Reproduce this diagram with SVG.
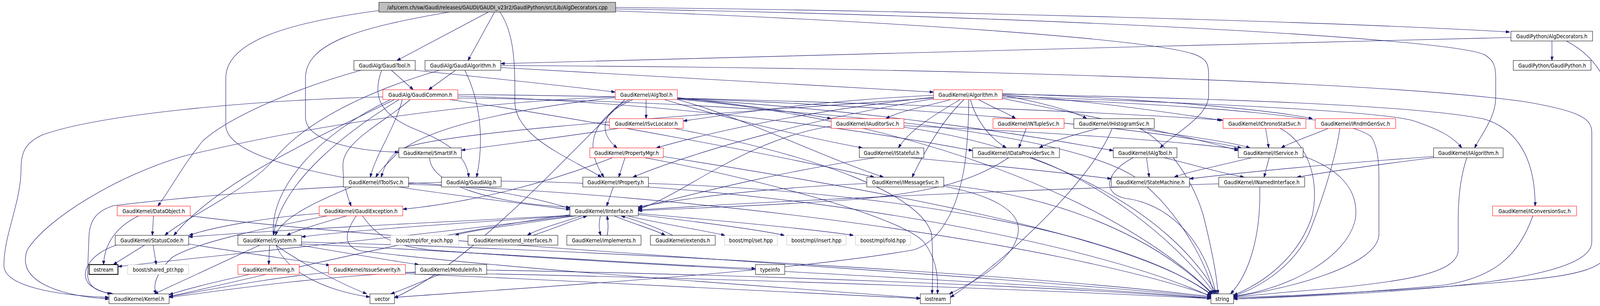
<svg xmlns="http://www.w3.org/2000/svg" width="4131" height="784" viewBox="0 0 4131 784">
<style>
.node rect{fill:#fff;stroke:#000;stroke-width:1}
.node.red rect{stroke:#f00}
.node.gry rect{stroke:#bfbfbf}
.node.root rect{fill:#bfbfbf}
.node.thick rect{stroke-width:2}
.node text{font-family:"DejaVu Sans Condensed","DejaVu Sans",sans-serif;font-stretch:condensed;font-size:13.7px;text-anchor:middle;fill:#000}
#edges path{fill:none;stroke:#191970;stroke-width:1.1;marker-end:url(#ah)}
</style>
<defs>
<marker id="ah" viewBox="0 0 10 7" refX="10" refY="3.5" markerWidth="10" markerHeight="7" markerUnits="userSpaceOnUse" orient="auto"><path d="M0,0 L10,3.5 L0,7 z" fill="#191970" stroke="#191970"/></marker>
</defs>
<rect width="4131" height="784" fill="#fff"/>
<g id="edges">
<path d="M1250,31 L1016,155"/>
<path d="M1266,31 L1198,155"/>
<path d="M1150,31 C920,70 782,110 782,200 L782,300 C782,360 900,386 1021,390"/>
<path d="M970,27 C760,55 578,100 578,200 L578,320 C578,430 1000,480 1459,537"/>
<path d="M1280,31 C1320,90 1318,180 1318,260 C1318,350 1450,400 1540,454"/>
<path d="M1576,19 C2400,28 3400,55 3865,82"/>
<path d="M1576,23 C2600,40 3700,95 3800,140 C3825,155 3829,170 3829,200 L3829,250 C3829,300 3795,340 3775,379"/>
<path d="M1576,28 C2300,55 2950,100 3060,140 C3090,152 3094,165 3094,190 L3094,245 C3094,300 3000,345 2970,379"/>
<path d="M3973,105 L3973,155"/>
<path d="M3868,96 C3000,115 1900,150 1282,163"/>
<path d="M4010,105 C4085,145 4125,210 4125,290 L4125,620 C4125,690 4040,705 3880,720 C3600,745 3300,758 3158,763"/>
<path d="M1166,180 L1097,230"/>
<path d="M1190,180 C1230,260 1240,360 1220,454"/>
<path d="M1282,173 C1700,195 2100,220 2390,236"/>
<path d="M1282,168 C2300,172 3500,205 3900,260 C4050,285 4075,305 4075,340 L4075,620 C4075,700 3800,745 3158,766"/>
<path d="M1125,180 C950,230 780,310 700,410 C630,490 470,560 422,603"/>
<path d="M1002,180 L1058,230"/>
<path d="M977,180 C955,240 965,290 1060,330 C1150,365 1195,400 1200,454"/>
<path d="M1063,180 C1300,205 1450,220 1575,236"/>
<path d="M924,180 C780,220 600,290 520,360 C470,420 440,480 404,528"/>
<path d="M980,248 C620,258 250,295 110,345 C65,365 54,390 54,430 C54,520 10,600 10,680 C10,735 150,757 279,762"/>
<path d="M1030,255 C1010,330 960,400 948,454"/>
<path d="M1050,255 C990,310 880,360 878,420 C877,470 890,505 899,528"/>
<path d="M1022,255 C900,330 720,460 700,603"/>
<path d="M1010,255 C840,340 560,460 445,603"/>
<path d="M1172,246 C1700,262 2200,330 2490,386"/>
<path d="M1150,255 C1500,305 2000,400 2238,454"/>
<path d="M1172,242 C2000,250 2900,290 3131,308"/>
<path d="M1000,255 C820,340 690,480 700,600 C710,690 830,745 947,761"/>
<path d="M1172,251 C2000,262 2700,330 2900,450 C3000,520 3080,650 3108,753"/>
<path d="M1654,255 L1654,304"/>
<path d="M1612,255 C1540,285 1530,340 1580,379"/>
<path d="M1620,255 C1520,300 1490,370 1546,454"/>
<path d="M1734,250 C1900,268 2050,290 2128,304"/>
<path d="M1575,250 C1300,280 1080,330 1010,400 C990,420 970,440 962,454"/>
<path d="M1734,255 C1900,300 2100,400 2262,454"/>
<path d="M1700,255 C1850,300 2050,350 2208,379"/>
<path d="M1734,253 C2200,280 2600,340 2850,386"/>
<path d="M1734,252 C2300,272 2900,320 3178,379"/>
<path d="M1734,254 C2300,300 2850,500 3105,753"/>
<path d="M1600,255 C1450,400 1200,680 1009,763"/>
<path d="M1575,248 C1200,262 800,320 470,400 C300,450 120,560 70,640 C40,720 150,758 279,766"/>
<path d="M2390,244 C2100,258 1900,288 1749,310"/>
<path d="M2390,249 C2100,280 1850,330 1680,379"/>
<path d="M2390,253 C2100,300 1800,380 1620,454"/>
<path d="M2434,255 C2380,270 2300,285 2268,304"/>
<path d="M2390,251 C1700,300 1100,340 1020,385 C995,405 982,430 976,454"/>
<path d="M2468,255 C2420,300 2370,380 2335,454"/>
<path d="M2458,255 C2400,290 2330,330 2300,379"/>
<path d="M2484,255 C2500,310 2530,350 2576,379"/>
<path d="M2505,255 C2540,275 2580,290 2600,304"/>
<path d="M2566,245 C2650,258 2750,285 2782,304"/>
<path d="M2566,243 C2800,258 3000,290 3126,308"/>
<path d="M2566,240 C2900,250 3250,280 3360,304"/>
<path d="M2566,252 C2800,300 3050,350 3170,386"/>
<path d="M2566,246 C3100,265 3540,285 3620,310 C3680,330 3720,350 3742,379"/>
<path d="M2566,241 C3000,250 3600,265 3800,305 C3880,330 3930,400 3930,528"/>
<path d="M2566,250 C3100,270 3450,300 3510,350 C3528,375 3530,420 3530,450 L3530,600 C3530,680 3300,740 3158,760"/>
<path d="M2480,255 C2480,330 2475,380 2470,420 C2450,550 2400,620 2340,640 C2000,700 1300,740 1009,762"/>
<path d="M1583,329 C1450,350 1300,368 1181,385"/>
<path d="M1726,329 C2100,400 2360,500 2385,600 C2390,680 2387,720 2386,753"/>
<path d="M2128,323 C1900,360 1750,500 1634,536"/>
<path d="M2314,322 C2700,340 3000,360 3170,382"/>
<path d="M2314,326 C2700,380 3000,550 3115,753"/>
<path d="M2627,329 L2608,379"/>
<path d="M2812,329 C2750,345 2690,362 2660,379"/>
<path d="M2915,329 C3000,345 3150,362 3200,379"/>
<path d="M2917,329 C2980,360 3050,450 3080,550 C3100,630 3115,700 3118,753"/>
<path d="M2847,329 C2800,450 2600,650 2433,762"/>
<path d="M3240,329 L3248,379"/>
<path d="M3277,329 C3340,360 3380,450 3360,550 C3320,680 3200,740 3158,756"/>
<path d="M3400,329 C3350,350 3300,366 3280,379"/>
<path d="M3430,329 C3420,400 3390,500 3350,600 C3300,700 3200,745 3158,758"/>
<path d="M1100,404 C1100,470 1250,520 1459,531"/>
<path d="M1600,404 L1584,454"/>
<path d="M1568,404 C1400,470 1200,520 1031,536"/>
<path d="M1697,401 C2200,480 2900,600 3102,755"/>
<path d="M1650,404 C1900,450 2300,550 2365,620 C2395,660 2402,700 2400,753"/>
<path d="M2240,404 C2000,440 1800,490 1634,533"/>
<path d="M2330,404 C2500,420 2700,440 2845,458"/>
<path d="M2582,404 C2500,460 2400,490 2200,510 C2000,525 1800,532 1634,540"/>
<path d="M2640,404 C2800,460 3000,600 3110,753"/>
<path d="M2935,404 L2942,454"/>
<path d="M2979,404 C3050,420 3110,440 3185,454"/>
<path d="M2901,404 C2830,440 2820,495 2880,508 C2980,520 3080,600 3113,753"/>
<path d="M3204,404 C3120,425 3040,440 3006,454"/>
<path d="M3249,404 L3236,454"/>
<path d="M3336,400 C3420,430 3480,480 3470,560 C3450,660 3300,740 3158,759"/>
<path d="M3670,401 C3400,420 3200,440 3045,458"/>
<path d="M3670,404 C3500,425 3400,440 3320,454"/>
<path d="M3755,404 C3740,450 3733,500 3733,560 L3733,640 C3733,700 3600,725 3300,748 C3230,754 3190,758 3158,761"/>
<path d="M1046,468 C1200,475 1350,500 1459,534"/>
<path d="M900,479 C800,520 720,560 705,603"/>
<path d="M1046,472 C1800,500 2700,620 3100,758"/>
<path d="M1130,467 C900,475 600,490 290,527 C250,540 232,560 228,600 L224,700 C224,730 240,745 285,753"/>
<path d="M1283,464 C2000,470 2800,620 3100,760"/>
<path d="M1570,479 L1553,528"/>
<path d="M1660,470 C2300,490 2900,600 3103,757"/>
<path d="M2219,470 C2000,480 1800,500 1634,530"/>
<path d="M2415,477 C2540,500 2610,540 2607,590 C2604,660 2500,720 2430,753"/>
<path d="M2416,474 C2700,500 2950,600 3105,755"/>
<path d="M3120,471 C2500,490 1900,520 1634,538"/>
<path d="M3225,479 C3228,600 3200,700 3150,753"/>
<path d="M393,553 L390,603"/>
<path d="M355,553 C300,580 268,620 265,678"/>
<path d="M487,553 C1000,620 2500,700 3100,762"/>
<path d="M888,553 C820,572 760,590 734,603"/>
<path d="M817,547 C700,555 550,580 484,603"/>
<path d="M928,553 C960,600 1000,630 1100,640 C1600,680 2600,720 3100,764"/>
<path d="M912,553 C880,600 880,630 920,642 C1300,690 2000,735 2356,764"/>
<path d="M838,553 C700,580 500,620 440,660 C400,700 390,730 400,753"/>
<path d="M1459,550 C1100,600 700,700 433,760"/>
<path d="M1459,553 C1200,570 900,590 772,607"/>
<path d="M1459,552 C1100,570 700,590 483,607"/>
<path d="M1465,553 C1100,600 600,650 302,683"/>
<path d="M1475,553 C1300,578 1200,592 1165,603"/>
<path d="M1490,553 C1420,575 1370,590 1350,603"/>
<path d="M1365,603 C1410,588 1460,568 1503,553"/>
<path d="M1537,553 C1533,570 1533,588 1538,603"/>
<path d="M1554,603 C1558,588 1557,570 1554,553"/>
<path d="M1572,553 C1620,573 1680,590 1703,603"/>
<path d="M1722,603 C1680,582 1630,565 1590,553"/>
<path d="M1606,553 C1700,575 1800,590 1856,603"/>
<path d="M1634,550 C1800,570 1950,590 2008,603"/>
<path d="M1634,547 C1900,570 2100,590 2185,603"/>
<path d="M3924,553 C3890,650 3830,710 3700,730 C3500,750 3300,760 3158,766"/>
<path d="M370,628 L290,678"/>
<path d="M392,628 L400,678"/>
<path d="M298,628 C230,650 200,700 230,730 C250,745 270,751 290,753"/>
<path d="M483,625 C600,645 750,665 845,680"/>
<path d="M690,628 L688,678"/>
<path d="M665,628 L395,753"/>
<path d="M706,628 C780,680 880,730 939,753"/>
<path d="M765,628 C900,650 1000,668 1072,678"/>
<path d="M772,625 C1300,650 1700,680 1934,688"/>
<path d="M772,620 C1500,640 2600,700 3100,760"/>
<path d="M640,703 C560,720 480,740 433,755"/>
<path d="M841,698 C700,710 550,740 433,760"/>
<path d="M1038,698 C1800,710 2600,740 3100,765"/>
<path d="M1038,701 C1500,720 2000,750 2356,765"/>
<path d="M1063,697 C800,710 600,740 433,762"/>
<path d="M1127,703 C1080,720 1040,740 1000,753"/>
<path d="M1246,692 C2000,705 2800,740 3100,765"/>
</g>
<g id="n_root" class="node root"><rect x="970" y="6" width="606" height="25"/><text x="1273" y="23.5">/afs/cern.ch/sw/Gaudi/releases/GAUDI/GAUDI_v23r2/GaudiPython/src/Lib/AlgDecorators.cpp</text></g>
<g id="n_algdec" class="node"><rect x="3868" y="80" width="209" height="25"/><text x="3972.5" y="97.5">GaudiPython/AlgDecorators.h</text></g>
<g id="n_gaudipython" class="node"><rect x="3874" y="155" width="199" height="25"/><text x="3973.5" y="172.5">GaudiPython/GaudiPython.h</text></g>
<g id="n_gauditool" class="node"><rect x="906" y="155" width="157" height="25"/><text x="984.5" y="172.5">GaudiAlg/GaudiTool.h</text></g>
<g id="n_gaudialgorithm" class="node"><rect x="1088" y="155" width="194" height="25"/><text x="1185" y="172.5">GaudiAlg/GaudiAlgorithm.h</text></g>
<g id="n_gaudicommon" class="node red"><rect x="980" y="230" width="192" height="25"/><text x="1076" y="247.5">GaudiAlg/GaudiCommon.h</text></g>
<g id="n_algtool" class="node red"><rect x="1575" y="230" width="159" height="25"/><text x="1654.5" y="247.5">GaudiKernel/AlgTool.h</text></g>
<g id="n_algorithm" class="node red"><rect x="2390" y="230" width="176" height="25"/><text x="2478" y="247.5">GaudiKernel/Algorithm.h</text></g>
<g id="n_isvclocator" class="node red"><rect x="1560" y="304" width="189" height="25"/><text x="1654.5" y="321.5">GaudiKernel/ISvcLocator.h</text></g>
<g id="n_iauditorsvc" class="node red"><rect x="2128" y="304" width="186" height="25"/><text x="2221" y="321.5">GaudiKernel/IAuditorSvc.h</text></g>
<g id="n_intuplesvc" class="node red"><rect x="2542" y="304" width="182" height="25"/><text x="2633" y="321.5">GaudiKernel/INTupleSvc.h</text></g>
<g id="n_ihistogramsvc" class="node"><rect x="2749" y="304" width="206" height="25"/><text x="2852" y="321.5">GaudiKernel/IHistogramSvc.h</text></g>
<g id="n_ichronostatsvc" class="node red"><rect x="3131" y="304" width="212" height="25"/><text x="3237" y="321.5">GaudiKernel/IChronoStatSvc.h</text></g>
<g id="n_irndmgensvc" class="node red"><rect x="3367" y="304" width="206" height="25"/><text x="3470" y="321.5">GaudiKernel/IRndmGenSvc.h</text></g>
<g id="n_smartif" class="node"><rect x="1021" y="379" width="160" height="25"/><text x="1101" y="396.5">GaudiKernel/SmartIF.h</text></g>
<g id="n_propertymgr" class="node red"><rect x="1510" y="379" width="188" height="25"/><text x="1604" y="396.5">GaudiKernel/PropertyMgr.h</text></g>
<g id="n_istateful" class="node"><rect x="2200" y="379" width="165" height="25"/><text x="2282.5" y="396.5">GaudiKernel/IStateful.h</text></g>
<g id="n_idataprovidersvc" class="node"><rect x="2490" y="379" width="222" height="25"/><text x="2601" y="396.5">GaudiKernel/IDataProviderSvc.h</text></g>
<g id="n_ialgtool" class="node"><rect x="2850" y="379" width="163" height="25"/><text x="2931.5" y="396.5">GaudiKernel/IAlgTool.h</text></g>
<g id="n_iservice" class="node"><rect x="3170" y="379" width="166" height="25"/><text x="3253" y="396.5">GaudiKernel/IService.h</text></g>
<g id="n_ialgorithm" class="node"><rect x="3670" y="379" width="178" height="25"/><text x="3759" y="396.5">GaudiKernel/IAlgorithm.h</text></g>
<g id="n_itoolsvc" class="node"><rect x="879" y="454" width="167" height="25"/><text x="962.5" y="471.5">GaudiKernel/IToolSvc.h</text></g>
<g id="n_gaudialg" class="node"><rect x="1130" y="454" width="153" height="25"/><text x="1206.5" y="471.5">GaudiAlg/GaudiAlg.h</text></g>
<g id="n_iproperty" class="node"><rect x="1492" y="454" width="168" height="25"/><text x="1576" y="471.5">GaudiKernel/IProperty.h</text></g>
<g id="n_imessagesvc" class="node"><rect x="2219" y="454" width="197" height="25"/><text x="2317.5" y="471.5">GaudiKernel/IMessageSvc.h</text></g>
<g id="n_statemachine" class="node"><rect x="2845" y="454" width="200" height="25"/><text x="2945" y="471.5">GaudiKernel/StateMachine.h</text></g>
<g id="n_inamedinterface" class="node"><rect x="3120" y="454" width="220" height="25"/><text x="3230" y="471.5">GaudiKernel/INamedInterface.h</text></g>
<g id="n_dataobject" class="node red"><rect x="300" y="528" width="187" height="25"/><text x="393.5" y="545.5">GaudiKernel/DataObject.h</text></g>
<g id="n_gaudiexception" class="node red"><rect x="817" y="528" width="214" height="25"/><text x="924" y="545.5">GaudiKernel/GaudiException.h</text></g>
<g id="n_iinterface" class="node"><rect x="1459" y="528" width="175" height="25"/><text x="1546.5" y="545.5">GaudiKernel/IInterface.h</text></g>
<g id="n_iconversionsvc" class="node red"><rect x="3821" y="528" width="215" height="25"/><text x="3928.5" y="545.5">GaudiKernel/IConversionSvc.h</text></g>
<g id="n_statuscode" class="node"><rect x="295" y="603" width="188" height="25"/><text x="389" y="620.5">GaudiKernel/StatusCode.h</text></g>
<g id="n_system" class="node"><rect x="609" y="603" width="163" height="25"/><text x="690.5" y="620.5">GaudiKernel/System.h</text></g>
<g id="n_foreach" class="node gry"><rect x="1000" y="603" width="174" height="25"/><text x="1087" y="620.5">boost/mpl/for_each.hpp</text></g>
<g id="n_extendinterfaces" class="node"><rect x="1198" y="603" width="230" height="25"/><text x="1313" y="620.5">GaudiKernel/extend_interfaces.h</text></g>
<g id="n_implements" class="node"><rect x="1451" y="603" width="190" height="25"/><text x="1546" y="620.5">GaudiKernel/implements.h</text></g>
<g id="n_extends" class="node"><rect x="1665" y="603" width="166" height="25"/><text x="1748" y="620.5">GaudiKernel/extends.h</text></g>
<g id="n_set" class="node gry"><rect x="1855" y="603" width="135" height="25"/><text x="1922.5" y="620.5">boost/mpl/set.hpp</text></g>
<g id="n_insert" class="node gry"><rect x="2014" y="603" width="152" height="25"/><text x="2090" y="620.5">boost/mpl/insert.hpp</text></g>
<g id="n_fold" class="node gry"><rect x="2190" y="603" width="141" height="25"/><text x="2260.5" y="620.5">boost/mpl/fold.hpp</text></g>
<g id="n_ostream" class="node thick"><rect x="228" y="678" width="74" height="25"/><text x="265" y="695.5">ostream</text></g>
<g id="n_sharedptr" class="node gry"><rect x="327" y="678" width="156" height="25"/><text x="405" y="695.5">boost/shared_ptr.hpp</text></g>
<g id="n_timing" class="node red"><rect x="609" y="678" width="157" height="25"/><text x="687.5" y="695.5">GaudiKernel/Timing.h</text></g>
<g id="n_issueseverity" class="node red"><rect x="841" y="678" width="197" height="25"/><text x="939.5" y="695.5">GaudiKernel/IssueSeverity.h</text></g>
<g id="n_moduleinfo" class="node"><rect x="1063" y="678" width="183" height="25"/><text x="1154.5" y="695.5">GaudiKernel/ModuleInfo.h</text></g>
<g id="n_typeinfo" class="node"><rect x="1934" y="678" width="75" height="25"/><text x="1971.5" y="695.5">typeinfo</text></g>
<g id="n_kernel" class="node"><rect x="279" y="753" width="154" height="25"/><text x="356" y="770.5">GaudiKernel/Kernel.h</text></g>
<g id="n_vector" class="node"><rect x="947" y="753" width="63" height="25"/><text x="978.5" y="770.5">vector</text></g>
<g id="n_iostream" class="node"><rect x="2356" y="753" width="77" height="25"/><text x="2394.5" y="770.5">iostream</text></g>
<g id="n_string" class="node"><rect x="3100" y="753" width="58" height="25"/><text x="3129" y="770.5">string</text></g>
</svg>
